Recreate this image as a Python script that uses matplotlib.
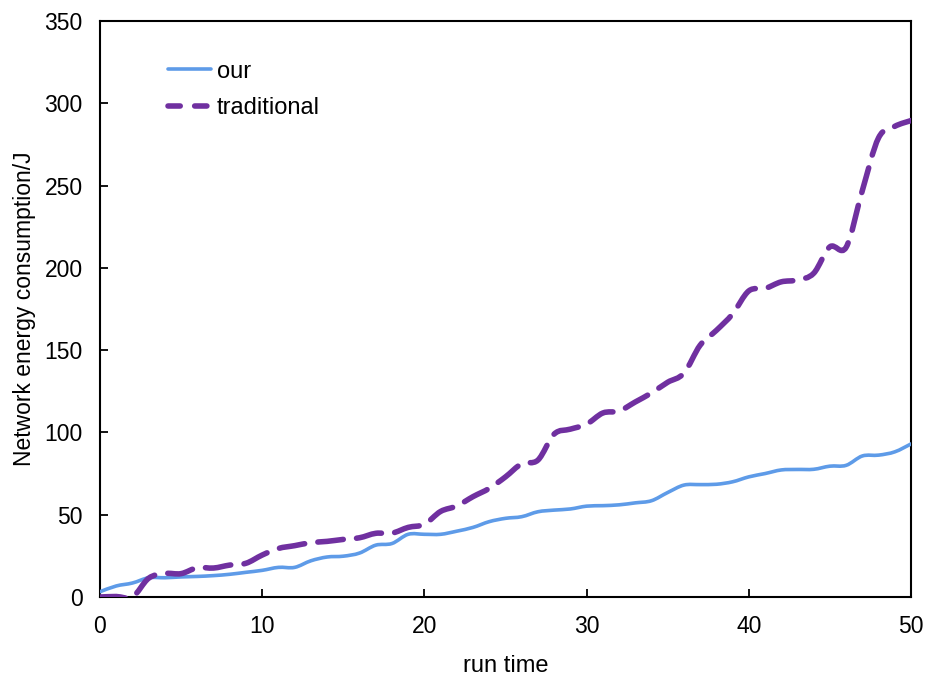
import matplotlib
matplotlib.use("Agg")
import matplotlib.pyplot as plt
from matplotlib.path import Path
from matplotlib.patches import PathPatch
from matplotlib.lines import Line2D

run_time = list(range(0, 51))
our = [3.2, 6.7, 8.5, 11.7, 11.7, 12.2, 12.5, 13.0, 13.8, 15.0,
       16.2, 18.0, 18.0, 22.0, 24.3, 24.8, 26.7, 31.5, 32.5, 38.1,
       38.1, 38.1, 40.0, 42.3, 45.8, 47.8, 48.8, 51.8, 52.8, 53.5,
       55.2, 55.5, 56.0, 57.2, 58.5, 63.5, 68.0, 68.3, 68.5, 70.0,
       73.0, 75.0, 77.2, 77.5, 77.6, 79.5, 80.0, 85.7, 86.2, 88.2,
       93.0]
traditional = [0.0, 0.3, 0.0, 11.4, 14.3, 14.2, 17.8, 17.6, 19.4, 20.5,
               25.5, 29.5, 31.2, 33.0, 33.8, 35.0, 36.0, 38.7, 38.8, 42.3,
               44.2, 52.0, 55.3, 61.0, 66.0, 73.0, 81.0, 83.2, 99.0, 102.0,
               105.0, 111.8, 113.0, 118.5, 124.0, 130.5, 136.0, 153.0, 162.0, 172.0,
               186.0, 187.5, 191.5, 192.6, 196.7, 212.8, 212.5, 247.0, 279.0, 286.0,
               289.5]
x_ticks = [0, 10, 20, 30, 40, 50]
y_ticks = [0, 50, 100, 150, 200, 250, 300, 350]

BLUE = '#5e9be8'
PURPLE = '#7030a0'


def smooth_path(xs, ys):
    """Smoothed-line rendering (Bezier through the data points)."""
    pts = list(zip(xs, ys))
    n = len(pts)
    verts = [pts[0]]
    codes = [Path.MOVETO]
    for i in range(n - 1):
        p0 = pts[i - 1] if i > 0 else pts[i]
        p1 = pts[i]
        p2 = pts[i + 1]
        p3 = pts[i + 2] if i + 2 < n else pts[i + 1]
        c1 = (p1[0] + (p2[0] - p0[0]) / 6.0, p1[1] + (p2[1] - p0[1]) / 6.0)
        c2 = (p2[0] - (p3[0] - p1[0]) / 6.0, p2[1] - (p3[1] - p1[1]) / 6.0)
        verts += [c1, c2, p2]
        codes += [Path.CURVE4] * 3
    return Path(verts, codes)


plt.rcParams['font.family'] = ['Liberation Sans', 'DejaVu Sans']

fig = plt.figure(figsize=(9.27, 6.77), dpi=100)
ax = fig.add_axes([100/927, 1-597/677, 811/927, 576/677])

p_our = PathPatch(smooth_path(run_time, our), facecolor='none', edgecolor=BLUE,
                  lw=2.6, capstyle='round', joinstyle='round', zorder=3)
ax.add_patch(p_our)
p_trad = PathPatch(smooth_path(run_time, traditional), facecolor='none', edgecolor=PURPLE,
                   lw=4.0, linestyle=(0, (4.6, 2.4)), capstyle='round',
                   joinstyle='round', zorder=3)
ax.add_patch(p_trad)

ax.set_xlim(0, 50)
ax.set_ylim(0, 350)
ax.set_xticks(x_ticks)
ax.set_yticks(y_ticks)
ax.tick_params(direction='in', length=6, width=1.3, labelsize=16.5, colors='black')
ax.tick_params(axis='y', pad=12.5)
ax.tick_params(axis='x', pad=13)
for s in ax.spines.values():
    s.set_linewidth(1.5)
ax.set_xlabel('run time', fontsize=17, labelpad=12)
ax.set_ylabel('Network energy consumption/J', fontsize=16.5, labelpad=6)

h_our = Line2D([], [], color=BLUE, lw=2.6, solid_capstyle='round')
h_trad = Line2D([], [], color=PURPLE, lw=4.0, dashes=(2.2, 2.6), dash_capstyle='round')
leg = ax.legend([h_our, h_trad], ['our', 'traditional'], loc='upper left',
                bbox_to_anchor=(0.058, 0.968), frameon=False,
                fontsize=17, handlelength=1.8, handletextpad=0.25, labelspacing=0.62)

fig.savefig('out.png', dpi=100)
